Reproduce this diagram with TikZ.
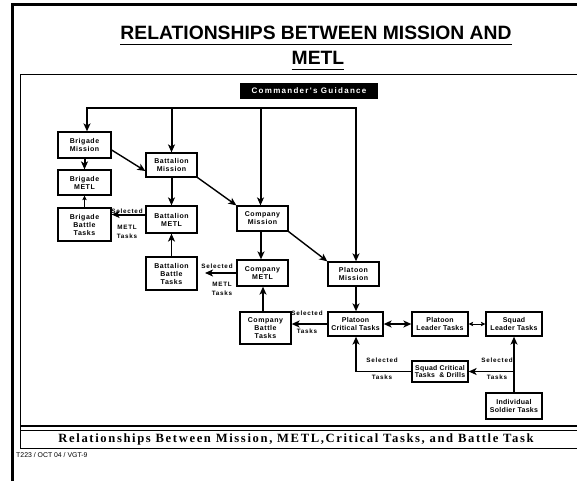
\documentclass[tikz,border=0pt]{standalone}
\usepackage{fontspec}
\setmainfont{Liberation Sans}
\newfontfamily\boxfont[LetterSpace=8]{Liberation Sans}
\newfontfamily\labfont[LetterSpace=12]{Liberation Sans}
\newfontfamily\tightfont[LetterSpace=4]{Liberation Sans}
\newfontfamily\cgfont[LetterSpace=16]{Liberation Sans}
\newfontfamily\capfont[LetterSpace=13]{Liberation Serif}
\usetikzlibrary{arrows.meta,calc}
\begin{document}
\begin{tikzpicture}[x=1pt,y=-1pt,
  box/.style={draw,line width=1.3pt,fill=white,inner sep=0pt,align=center,
    font=\boxfont\bfseries\fontsize{7}{8}\selectfont},
  tbox/.style={box,font=\tightfont\bfseries\fontsize{7}{8}\selectfont},
  lbl/.style={inner sep=0pt,font=\labfont\bfseries\fontsize{6.3}{7}\selectfont},
  arr/.style={-{Stealth[length=8pt,width=7pt,inset=2.2pt]}},
  arrB/.style={{Stealth[length=8pt,width=7pt,inset=2.2pt]}-{Stealth[length=8pt,width=7pt,inset=2.2pt]}},
  arrS/.style={-{Stealth[length=4.5pt,width=4.5pt,inset=1pt]}},
  arrSB/.style={{Stealth[length=4.5pt,width=4.5pt,inset=1pt]}-{Stealth[length=4.5pt,width=4.5pt,inset=1pt]}},
  heavy/.style={line width=2pt},
  med/.style={line width=1.4pt},
  thinl/.style={line width=1pt}]
\useasboundingbox (0,0) rectangle (577,481);
% page frame
\draw[line width=3pt] (12.5,481) -- (12.5,5) -- (577,5);
% title
\node[inner sep=0pt,anchor=base,font=\bfseries\fontsize{19.3}{22}\selectfont] (t1) at (316,40) {RELATIONSHIPS BETWEEN MISSION AND};
\node[inner sep=0pt,anchor=base,font=\bfseries\fontsize{19.3}{22}\selectfont] (t2) at (318,65) {METL};
\draw[line width=1.3pt] ($(t1.base west)+(0,4.5)$) -- ($(t1.base east)+(0,4.5)$);
\draw[line width=1.3pt] ($(t2.base west)+(0,4.5)$) -- ($(t2.base east)+(0,4.5)$);
% inner frame
\draw[line width=1pt] (20,449) -- (20,75) -- (577,75);
% commander's guidance
\node[fill=black,text=white,inner sep=0pt,minimum width=138,minimum height=16,
  font=\cgfont\bfseries\fontsize{8}{9}\selectfont] (cg) at (309,91) {Commander's Guidance};
% boxes
\node[box,minimum width=53,minimum height=26] (brm) at (84.5,145) {Brigade\\Mission};
\node[box,minimum width=53,minimum height=25] (brl) at (84.5,182.5) {Brigade\\METL};
\node[box,minimum width=53,minimum height=33] (brb) at (84.5,224.5) {Brigade\\Battle\\Tasks};
\node[box,minimum width=51,minimum height=24] (bnm) at (171.5,165) {Battalion\\Mission};
\node[box,minimum width=51,minimum height=27] (bnl) at (171.5,219.5) {Battalion\\METL};
\node[box,minimum width=51,minimum height=33] (bnb) at (171.5,273.5) {Battalion\\Battle\\Tasks};
\node[box,minimum width=51,minimum height=25] (com) at (262.5,218.5) {Company\\Mission};
\node[box,minimum width=51,minimum height=26] (col) at (262.5,273) {Company\\METL};
\node[box,minimum width=51,minimum height=32] (cob) at (265.5,328) {Company\\Battle\\Tasks};
\node[box,minimum width=51,minimum height=24] (plm) at (353.5,274) {Platoon\\Mission};
\node[tbox,minimum width=55,minimum height=24] (plc) at (355.5,324) {Platoon\\Critical Tasks};
\node[tbox,minimum width=56,minimum height=24] (pll) at (440,324) {Platoon\\Leader Tasks};
\node[tbox,minimum width=56,minimum height=24] (sql) at (514,324) {Squad\\Leader Tasks};
\node[tbox,minimum width=56,minimum height=21,font=\tightfont\bfseries\fontsize{6.9}{7.6}\selectfont] (sqc) at (440,371.5) {Squad Critical\\Tasks \ \& Drills};
\node[tbox,minimum width=56,minimum height=26] (ind) at (514,406) {Individual\\Soldier Tasks};
% bus from commander's guidance
\coordinate (busR) at (356,108);
\coordinate (brmTop) at ($(brm.north)+(2.5,0)$);
\coordinate (comTop) at ($(com.north)+(-2,0)$);
\draw[line width=2.2pt,arrB] (brmTop) |- (busR) -- (busR |- plm.north);
\draw[heavy,arr] (bnm.north |- busR) -- (bnm.north);
\draw[heavy,arr] (comTop |- busR) -- (comTop);
% mission chain diagonals
\draw[med,arr] ($(brm.east)+(0,5)$) -- ($(bnm.west)+(0,6)$);
\draw[med,arr] (bnm.south east) -- (com.north west);
\draw[med,arr] (com.south east) -- (plm.north west);
% brigade
\draw[heavy,arr] (brm.south) -- (brl.north);
\draw[thinl,arrS] (brb.north) -- (brl.south);
% battalion
\draw[heavy,arr] (bnm.south) -- (bnl.north);
\draw[med,arr] (bnb.north) -- (bnl.south);
\draw[heavy,arr] ($(bnl.west)+(0,-5)$) -- ($(brb.east)+(0,-10)$);
\node[lbl] (s1) at (127,211) {Selected};
\node[lbl] (m1) at (127,227) {METL};
\node[lbl] (k1) at (127,236) {Tasks};
% company
\coordinate (colTop) at ($(col.north)+(-1.5,0)$);
\draw[heavy,arr] (colTop |- com.south) -- (colTop);
\coordinate (cobTop) at ($(cob.north)+(-2.5,0)$);
\draw[heavy,arr] (cobTop) -- (cobTop |- col.south);
\coordinate (colfree) at (205,273);
\draw[heavy,arr] (col.west) -- (colfree);
\node[lbl] (s2) at (217,266) {Selected};
\node[lbl] (m2) at (222,284) {METL};
\node[lbl] (k2) at (222,293) {Tasks};
% platoon
\coordinate (plmB) at ($(plm.south)+(2.5,0)$);
\draw[heavy,arr] (plmB) -- (plmB |- plc.north);
\draw[heavy,arr] (plc.west) -- (plc.west -| cob.east);
\node[lbl] (s3) at (307,313) {Selected};
\node[lbl] (k3) at (307,331) {Tasks};
\draw[heavy,arrB] (plc.east) -- (pll.west);
\draw[thinl,arrSB] (pll.east) -- (sql.west);
% squad
\coordinate (plcB) at ($(plc.south)+(0.5,0)$);
\draw[med,arr] (sqc.west) -| (plcB);
\node[lbl] (s4) at (382,360) {Selected};
\node[lbl] (k4) at (382,377) {Tasks};
\draw[heavy,arr] (ind.north) -- (ind.north |- sql.south);
\draw[med,arr] (ind.north |- sqc.east) -- (sqc.east);
\node[lbl] (s5) at (497,360) {Selected};
\node[lbl] (k5) at (497,377) {Tasks};
% bottom caption
\draw[line width=2.5pt] (20,426) -- (577,426);
\draw[line width=0.8pt] (20,430.5) -- (577,430.5);
\node[inner sep=0pt,font=\capfont\bfseries\fontsize{12.6}{14}\selectfont] (cap) at (296,439) {Relationships Between Mission, METL,Critical Tasks, and Battle Task};
\draw[line width=0.8pt] (20,448.5) -- (577,448.5);
\node[anchor=west,inner sep=0pt,font=\fontsize{6.9}{7.5}\selectfont] (ft) at (16,455) {T223 / OCT 04 / VGT-9};
\end{tikzpicture}
\end{document}
